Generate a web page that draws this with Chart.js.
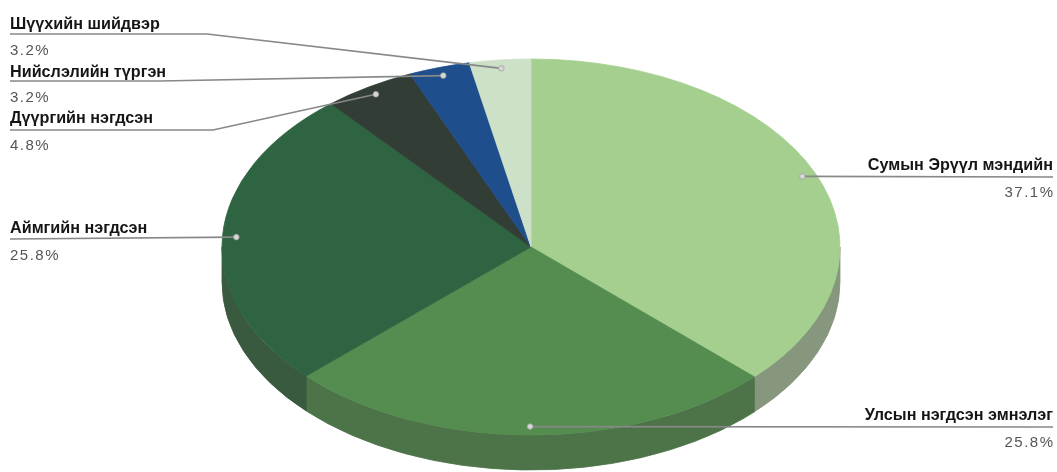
<!DOCTYPE html>
<html><head><meta charset="utf-8">
<script src="https://cdn.jsdelivr.net/npm/chart.js@4.4.0/dist/chart.umd.min.js"></script>
<style>html,body{margin:0;padding:0;background:#fff;}canvas{display:block}</style>
</head><body>
<canvas id="c" width="1057" height="472"></canvas>
<script>
const categories = ['Сумын Эрүүл мэндийн','Улсын нэгдсэн эмнэлэг','Аймгийн нэгдсэн','Дүүргийн нэгдсэн','Нийслэлийн түргэн','Шүүхийн шийдвэр'];
const values = [37.1, 25.8, 25.8, 4.8, 3.2, 3.2];
const percentLabels = ['37.1%','25.8%','25.8%','4.8%','3.2%','3.2%'];
const topColors = ['#a4cf8f','#558d51','#2e6441','#323e35','#1f4e8c','#cde0c8'];
const sideColors = ['#87977d','#4d7449','#3a5a40','#2a332c','#1a3f70','#a9b8a4'];

// layout (screen pixels)
const CY = 247, RX = 309, RY = 188, K = RY / RX, DEPTH = 35, DOT_F = 0.955;
const labelLayout = [
  {side:'right', y:170, lineY:177, pctY:197},
  {side:'right', y:420, lineY:427, pctY:447},
  {side:'left',  y:233, lineY:239, pctY:260, bendX:null},
  {side:'left',  y:123, lineY:130, pctY:150, bendX:213},
  {side:'left',  y:77,  lineY:81,  pctY:102, bendX:160},
  {side:'left',  y:29,  lineY:34,  pctY:55,  bendX:207}
];

const pie3d = {
  id: 'pie3d',
  beforeDatasetsDraw(chart) {
    const ctx = chart.ctx;
    const meta = chart.getDatasetMeta(0);
    const cy = meta.data[0].y;
    ctx.save();
    ctx.translate(0, CY); ctx.scale(1, K); ctx.translate(0, -cy);
    const D = DEPTH / K;
    meta.data.forEach((arc, i) => {
      const s = Math.max(arc.startAngle, 0), e = Math.min(arc.endAngle, Math.PI);
      if (e <= s) return;
      ctx.beginPath();
      ctx.arc(arc.x, arc.y, arc.outerRadius, s, e);
      ctx.arc(arc.x, arc.y + D, arc.outerRadius, e, s, true);
      ctx.closePath();
      ctx.fillStyle = sideColors[i];
      ctx.strokeStyle = sideColors[i];
      ctx.lineWidth = 1;
      ctx.fill(); ctx.stroke();
    });
  },
  afterDatasetsDraw(chart) { chart.ctx.restore(); },
  afterDraw(chart) {
    const ctx = chart.ctx;
    const meta = chart.getDatasetMeta(0);
    const W = chart.width;
    ctx.save();
    meta.data.forEach((arc, i) => {
      const L = labelLayout[i];
      const mid = (arc.startAngle + arc.endAngle) / 2;
      const dx = arc.x + Math.cos(mid) * arc.outerRadius * DOT_F;
      const dy = CY + Math.sin(mid) * arc.outerRadius * DOT_F * K;
      ctx.strokeStyle = '#888888';
      ctx.lineWidth = 1.7;
      ctx.beginPath();
      if (L.side === 'left') {
        ctx.moveTo(10, L.lineY);
        if (L.bendX) ctx.lineTo(L.bendX, L.lineY);
        ctx.lineTo(dx, dy);
      } else {
        ctx.moveTo(dx, dy);
        ctx.lineTo(W - 4, L.lineY);
      }
      ctx.stroke();
      ctx.beginPath();
      ctx.arc(dx, dy, 2.8, 0, Math.PI * 2);
      ctx.fillStyle = '#d6d6d6';
      ctx.fill();
      ctx.strokeStyle = '#a0a0a0'; ctx.lineWidth = 0.8; ctx.stroke();

      const tx = L.side === 'left' ? 10 : W - 4;
      ctx.textAlign = L.side === 'left' ? 'left' : 'right';
      ctx.textBaseline = 'alphabetic';
      ctx.fillStyle = '#151515';
      ctx.letterSpacing = '0px';
      ctx.font = "bold 16.2px 'Liberation Sans', Arial, sans-serif";
      ctx.fillText(categories[i], tx, L.y);
      ctx.fillStyle = '#555555';
      ctx.letterSpacing = '1.5px';
      ctx.font = "15px 'Liberation Sans', Arial, sans-serif";
      ctx.fillText(percentLabels[i], tx + (L.side === 'left' ? 0 : 1.5), L.pctY);
    });
    ctx.restore();
  }
};

new Chart(document.getElementById('c'), {
  type: 'pie',
  data: {
    labels: categories,
    datasets: [{
      data: values,
      backgroundColor: topColors,
      borderColor: topColors,
      borderWidth: 1,
      radius: RX,
      hoverOffset: 0,
      clip: false
    }]
  },
  options: {
    responsive: false,
    animation: false,
    devicePixelRatio: 1,
    layout: { padding: { left: 5, right: 0, top: 0, bottom: 0 } },
    plugins: { legend: { display: false }, tooltip: { enabled: false } },
    events: []
  },
  plugins: [pie3d]
});
</script>
</body></html>
